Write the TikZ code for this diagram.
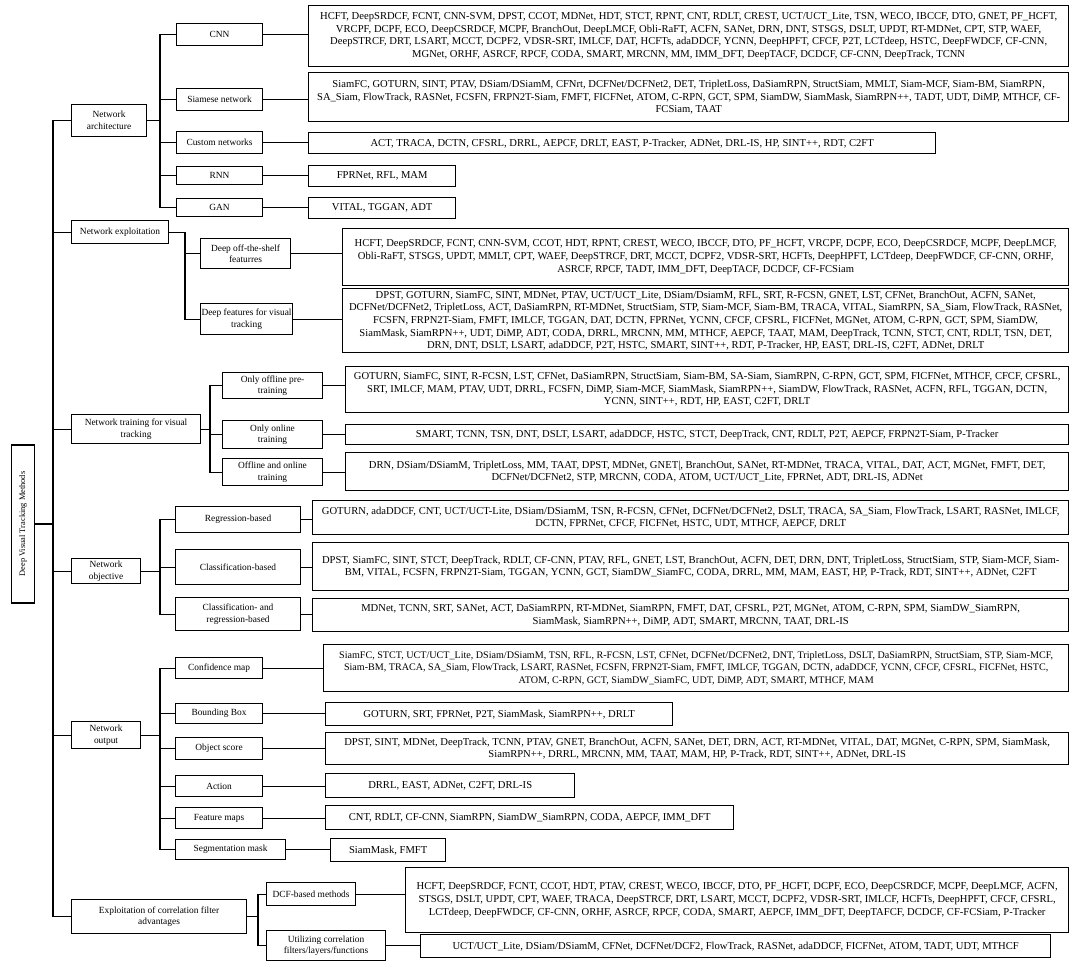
\documentclass[tikz,border=0pt]{standalone}
\usepackage{fontspec}
\setmainfont{Liberation Serif}
\newcommand{\fs}{\fontsize{9.4}{11.6}\selectfont}
\newcommand{\fl}{\fontsize{10.6}{12.6}\selectfont}
\newcommand{\flc}{\fontsize{10.1}{12.6}\selectfont}
\newcommand{\fr}{\fontsize{8.4}{10}\selectfont}
\newcommand{\bx}[7]{\node[#2, anchor=north west, minimum width={(#5-#3)*1pt}, minimum height={(#6-#4)*1pt}] (#1) at (#3,#4) {#7};}
\tikzset{
  lab/.style={draw, line width=1.1pt, font=\fs, align=center, inner sep=0pt},
  leaf/.style={draw, line width=1.4pt, font=\fl, align=center, inner sep=0pt},
  conn/.style={line width=1.1pt}
}
\begin{document}
\begin{tikzpicture}[x=1pt,y=-1pt]
\useasboundingbox (0,0) rectangle (1080,964);
% root
\node[draw, line width=1.1pt, font=\fr, inner sep=0pt, rotate=90, minimum width=158pt, minimum height=23pt] (root) at (23,524) {Deep Visual Tracking Methods};
% level 1
\bx{na}{lab}{71}{104}{146}{136}{Network\\architecture}
\bx{ne}{lab}{71}{220}{168}{243}{Network exploitation}
\bx{nt}{lab}{71}{414}{200}{443}{Network training for visual\\tracking}
\bx{no}{lab}{71}{558}{140}{583}{Network\\objective}
\bx{nout}{lab}{71}{721}{140}{748}{Network\\output}
\bx{ex}{lab}{71}{899}{246}{933}{Exploitation of correlation filter\\advantages}
% level 2: architecture
\bx{cnn}{lab}{176}{23}{262}{45}{CNN}
\bx{siam}{lab}{176}{88}{262}{110}{Siamese network}
\bx{cust}{lab}{176}{131}{262}{153}{Custom networks}
\bx{rnn}{lab}{176}{166}{262}{184}{RNN}
\bx{gan}{lab}{176}{198}{262}{216}{GAN}
% exploitation
\bx{dots}{lab}{200}{238}{290}{268}{Deep off-the-shelf\\featurres}
\bx{dfvt}{lab}{200}{303}{292}{334}{Deep features for visual\\tracking}
% training
\bx{off}{lab}{222}{372}{322}{398}{Only offline pre-\\training}
\bx{onl}{lab}{222}{420}{322}{448}{Only online\\training}
\bx{offon}{lab}{222}{458}{322}{485}{Offline and online\\training}
% objective
\bx{reg}{lab}{175}{506}{300}{532}{Regression-based}
\bx{cls}{lab}{175}{549}{300}{584}{Classification-based}
\bx{clsreg}{lab}{175}{597}{300}{630}{Classification- and\\regression-based}
% output
\bx{conf}{lab}{175}{657}{262}{678}{Confidence map}
\bx{bbox}{lab}{175}{703}{262}{723}{Bounding Box}
\bx{obj}{lab}{175}{737}{262}{759}{Object score}
\bx{act}{lab}{175}{775}{262}{796}{Action}
\bx{feat}{lab}{175}{807}{262}{828}{Feature maps}
\bx{seg}{lab}{175}{839}{285}{859}{Segmentation mask}
% correlation
\bx{dcf}{lab}{266}{882}{355}{905}{DCF-based methods}
\bx{util}{lab}{266}{930}{385}{960}{Utilizing correlation\\filters/layers/functions}
% leaves
\bx{cnnL}{leaf}{308}{5}{1068}{66}{HCFT, DeepSRDCF, FCNT, CNN-SVM, DPST, CCOT, MDNet, HDT, STCT, RPNT, CNT, RDLT, CREST, UCT/UCT\_Lite, TSN, WECO, IBCCF, DTO, GNET, PF\_HCFT,\\VRCPF, DCPF, ECO, DeepCSRDCF, MCPF, BranchOut, DeepLMCF, Obli-RaFT, ACFN, SANet, DRN, DNT, STSGS, DSLT, UPDT, RT-MDNet, CPT, STP, WAEF,\\DeepSTRCF, DRT, LSART, MCCT, DCPF2, VDSR-SRT, IMLCF, DAT, HCFTs, adaDDCF, YCNN, DeepHPFT, CFCF, P2T, LCTdeep, HSTC, DeepFWDCF, CF-CNN,\\MGNet, ORHF, ASRCF, RPCF, CODA, SMART, MRCNN, MM, IMM\_DFT, DeepTACF, DCDCF, CF-CNN, DeepTrack, TCNN}
\bx{siamL}{leaf}{308}{72}{1068}{121}{SiamFC, GOTURN, SINT, PTAV, DSiam/DSiamM, CFNrt, DCFNet/DCFNet2, DET, TripletLoss, DaSiamRPN, StructSiam, MMLT, Siam-MCF, Siam-BM, SiamRPN,\\SA\_Siam, FlowTrack, RASNet, FCSFN, FRPN2T-Siam, FMFT, FICFNet, ATOM, C-RPN, GCT, SPM, SiamDW, SiamMask, SiamRPN++, TADT, UDT, DiMP, MTHCF, CF-\\FCSiam, TAAT}
\bx{custL}{leaf}{308}{132}{935}{153}{ACT, TRACA, DCTN, CFSRL, DRRL, AEPCF, DRLT, EAST, P-Tracker, ADNet, DRL-IS, HP, SINT++, RDT, C2FT}
\bx{rnnL}{leaf}{308}{165}{455}{186}{FPRNet, RFL, MAM}
\bx{ganL}{leaf}{308}{197}{455}{218}{VITAL, TGGAN, ADT}
\bx{dotsL}{leaf}{342}{228}{1068}{285}{HCFT, DeepSRDCF, FCNT, CNN-SVM, CCOT, HDT, RPNT, CREST, WECO, IBCCF, DTO, PF\_HCFT, VRCPF, DCPF, ECO, DeepCSRDCF, MCPF, DeepLMCF,\\Obli-RaFT, STSGS, UPDT, MMLT, CPT, WAEF, DeepSTRCF, DRT, MCCT, DCPF2, VDSR-SRT, HCFTs, DeepHPFT, LCTdeep, DeepFWDCF, CF-CNN, ORHF,\\ASRCF, RPCF, TADT, IMM\_DFT, DeepTACF, DCDCF, CF-FCSiam}
\bx{dfvtL}{leaf}{342}{288}{1068}{352}{DPST, GOTURN, SiamFC, SINT, MDNet, PTAV, UCT/UCT\_Lite, DSiam/DsiamM, RFL, SRT, R-FCSN, GNET, LST, CFNet, BranchOut, ACFN, SANet,\\DCFNet/DCFNet2, TripletLoss, ACT, DaSiamRPN, RT-MDNet, StructSiam, STP, Siam-MCF, Siam-BM, TRACA, VITAL, SiamRPN, SA\_Siam, FlowTrack, RASNet,\\FCSFN, FRPN2T-Siam, FMFT, IMLCF, TGGAN, DAT, DCTN, FPRNet, YCNN, CFCF, CFSRL, FICFNet, MGNet, ATOM, C-RPN, GCT, SPM, SiamDW,\\SiamMask, SiamRPN++, UDT, DiMP, ADT, CODA, DRRL, MRCNN, MM, MTHCF, AEPCF, TAAT, MAM, DeepTrack, TCNN, STCT, CNT, RDLT, TSN, DET,\\DRN, DNT, DSLT, LSART, adaDDCF, P2T, HSTC, SMART, SINT++, RDT, P-Tracker, HP, EAST, DRL-IS, C2FT, ADNet, DRLT}
\bx{offL}{leaf}{345}{366}{1068}{412}{GOTURN, SiamFC, SINT, R-FCSN, LST, CFNet, DaSiamRPN, StructSiam, Siam-BM, SA-Siam, SiamRPN, C-RPN, GCT, SPM, FICFNet, MTHCF, CFCF, CFSRL,\\SRT, IMLCF, MAM, PTAV, UDT, DRRL, FCSFN, DiMP, Siam-MCF, SiamMask, SiamRPN++, SiamDW, FlowTrack, RASNet, ACFN, RFL, TGGAN, DCTN,\\YCNN, SINT++, RDT, HP, EAST, C2FT, DRLT}
\bx{onlL}{leaf}{345}{424}{1068}{444}{SMART, TCNN, TSN, DNT, DSLT, LSART, adaDDCF, HSTC, STCT, DeepTrack, CNT, RDLT, P2T, AEPCF, FRPN2T-Siam, P-Tracker}
\bx{offonL}{leaf}{345}{452}{1068}{490}{DRN, DSiam/DSiamM, TripletLoss, MM, TAAT, DPST, MDNet, GNET|, BranchOut, SANet, RT-MDNet, TRACA, VITAL, DAT, ACT, MGNet, FMFT, DET,\\DCFNet/DCFNet2, STP, MRCNN, CODA, ATOM, UCT/UCT\_Lite, FPRNet, ADT, DRL-IS, ADNet}
\bx{regL}{leaf}{312}{500}{1068}{534}{GOTURN, adaDDCF, CNT, UCT/UCT-Lite, DSiam/DSiamM, TSN, R-FCSN, CFNet, DCFNet/DCFNet2, DSLT, TRACA, SA\_Siam, FlowTrack, LSART, RASNet, IMLCF,\\DCTN, FPRNet, CFCF, FICFNet, HSTC, UDT, MTHCF, AEPCF, DRLT}
\bx{clsL}{leaf}{312}{542}{1068}{590}{DPST, SiamFC, SINT, STCT, DeepTrack, RDLT, CF-CNN, PTAV, RFL, GNET, LST, BranchOut, ACFN, DET, DRN, DNT, TripletLoss, StructSiam, STP, Siam-MCF, Siam-\\BM, VITAL, FCSFN, FRPN2T-Siam, TGGAN, YCNN, GCT, SiamDW\_SiamFC, CODA, DRRL, MM, MAM, EAST, HP, P-Track, RDT, SINT++, ADNet, C2FT}
\bx{clsregL}{leaf}{312}{598}{1068}{631}{MDNet, TCNN, SRT, SANet, ACT, DaSiamRPN, RT-MDNet, SiamRPN, FMFT, DAT, CFSRL, P2T, MGNet, ATOM, C-RPN, SPM, SiamDW\_SiamRPN,\\SiamMask, SiamRPN++, DiMP, ADT, SMART, MRCNN, TAAT, DRL-IS}
\bx{confL}{leaf, font=\flc}{323}{644}{1068}{691}{SiamFC, STCT, UCT/UCT\_Lite, DSiam/DSiamM, TSN, RFL, R-FCSN, LST, CFNet, DCFNet/DCFNet2, DNT, TripletLoss, DSLT, DaSiamRPN, StructSiam, STP, Siam-MCF,\\Siam-BM, TRACA, SA\_Siam, FlowTrack, LSART, RASNet, FCSFN, FRPN2T-Siam, FMFT, IMLCF, TGGAN, DCTN, adaDDCF, YCNN, CFCF, CFSRL, FICFNet, HSTC,\\ATOM, C-RPN, GCT, SiamDW\_SiamFC, UDT, DiMP, ADT, SMART, MTHCF, MAM}
\bx{bboxL}{leaf}{325}{702}{672}{725}{GOTURN, SRT, FPRNet, P2T, SiamMask, SiamRPN++, DRLT}
\bx{objL}{leaf}{325}{732}{1068}{764}{DPST, SINT, MDNet, DeepTrack, TCNN, PTAV, GNET, BranchOut, ACFN, SANet, DET, DRN, ACT, RT-MDNet, VITAL, DAT, MGNet, C-RPN, SPM, SiamMask,\\SiamRPN++, DRRL, MRCNN, MM, TAAT, MAM, HP, P-Track, RDT, SINT++, ADNet, DRL-IS}
\bx{actL}{leaf}{325}{773}{574}{797}{DRRL, EAST, ADNet, C2FT, DRL-IS}
\bx{featL}{leaf}{325}{805}{733}{829}{CNT, RDLT, CF-CNN, SiamRPN, SiamDW\_SiamRPN, CODA, AEPCF, IMM\_DFT}
\bx{segL}{leaf}{330}{838}{445}{861}{SiamMask, FMFT}
\bx{dcfL}{leaf}{405}{867}{1068}{932}{HCFT, DeepSRDCF, FCNT, CCOT, HDT, PTAV, CREST, WECO, IBCCF, DTO, PF\_HCFT, DCPF, ECO, DeepCSRDCF, MCPF, DeepLMCF, ACFN,\\STSGS, DSLT, UPDT, CPT, WAEF, TRACA, DeepSTRCF, DRT, LSART, MCCT, DCPF2, VDSR-SRT, IMLCF, HCFTs, DeepHPFT, CFCF, CFSRL,\\LCTdeep, DeepFWDCF, CF-CNN, ORHF, ASRCF, RPCF, CODA, SMART, AEPCF, IMM\_DFT, DeepTAFCF, DCDCF, CF-FCSiam, P-Tracker}
\bx{utilL}{leaf}{420}{934}{1050}{957}{UCT/UCT\_Lite, DSiam/DSiamM, CFNet, DCFNet/DCF2, FlowTrack, RASNet, adaDDCF, FICFNet, ATOM, TADT, UDT, MTHCF}
% bus coordinates
\coordinate (bT) at (53,0);
\coordinate (bNA) at (160,0);
\coordinate (bNE) at (185,0);
\coordinate (bNT) at (210,0);
\coordinate (bNO) at (160,0);
\coordinate (bNOut) at (160,0);
\coordinate (bEX) at (258,0);
% trunk
\foreach \c in {na,ne,nt,no,nout,ex}
  \draw[conn] (root.south) -- (root.south -| bT) |- (\c.west);
\foreach \c in {cnn,siam,cust,rnn,gan}
  \draw[conn] (na.east) -- (na.east -| bNA) |- (\c.west);
\foreach \c in {dots,dfvt}
  \draw[conn] (ne.east) -- (ne.east -| bNE) |- (\c.west);
\foreach \c in {off,onl,offon}
  \draw[conn] (nt.east) -- (nt.east -| bNT) |- (\c.west);
\foreach \c in {reg,cls,clsreg}
  \draw[conn] (no.east) -- (no.east -| bNO) |- (\c.west);
\foreach \c in {conf,bbox,obj,act,feat,seg}
  \draw[conn] (nout.east) -- (nout.east -| bNOut) |- (\c.west);
\foreach \c in {dcf,util}
  \draw[conn] (ex.east) -- (ex.east -| bEX) |- (\c.west);
% to leaves
\foreach \c in {cnn,siam,cust,rnn,gan,dots,dfvt,off,onl,offon,reg,cls,clsreg,conf,bbox,obj,act,feat,seg,dcf,util}
  \draw[conn] (\c.east) -- (\c.east -| \c L.west);
\end{tikzpicture}
\end{document}
